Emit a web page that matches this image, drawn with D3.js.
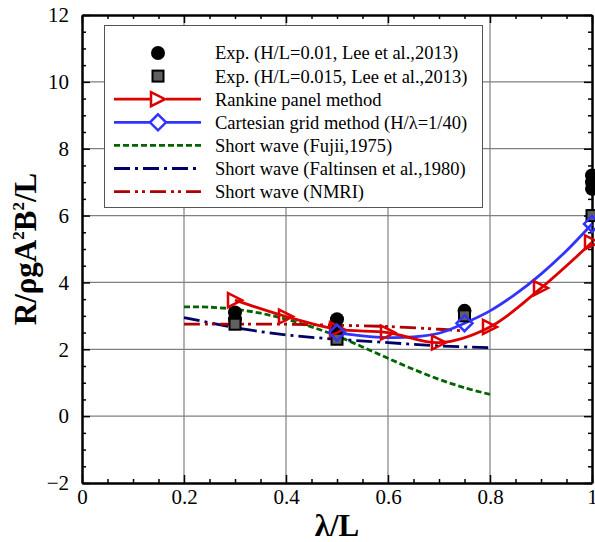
<!DOCTYPE html>
<html><head><meta charset="utf-8">
<script src="https://cdn.jsdelivr.net/npm/d3@7"></script>
<style>body{margin:0;background:#fff}svg{display:block}</style>
</head><body>
<script>
const expCircleX = [0.3, 0.3, 0.5, 0.5, 0.75, 1.0, 1.0, 1.0];
const expCircleY = [3.1, 2.9, 2.9, 2.55, 3.15, 7.2, 7.0, 6.8];
const expSquareX = [0.3, 0.5, 0.75, 1.0];
const expSquareY = [2.75, 2.3, 3.0, 6.0];
const rankineX = [0.3, 0.4, 0.5, 0.6, 0.7, 0.8, 0.9, 1.0];
const rankineY = [3.47, 2.98, 2.6, 2.5, 2.2, 2.67, 3.83, 5.2];
const cartMarkX = [0.5, 0.75, 1.0];
const cartMarkY = [2.5, 2.78, 5.75];
const cartLineX = [0.5, 0.55, 0.6, 0.65, 0.7, 0.75, 0.8, 0.85, 0.9, 0.95, 1.0];
const cartLineY = [2.5, 2.4, 2.35, 2.37, 2.48, 2.78, 3.15, 3.65, 4.25, 4.95, 5.75];
const fujiiX = [0.2, 0.25, 0.3, 0.35, 0.4, 0.45, 0.5, 0.55, 0.6, 0.65, 0.7, 0.75, 0.8];
const fujiiY = [3.27, 3.26, 3.2, 3.08, 2.9, 2.67, 2.4, 2.07, 1.73, 1.4, 1.1, 0.85, 0.65];
const faltX = [0.2, 0.3, 0.4, 0.5, 0.6, 0.7, 0.8];
const faltY = [2.95, 2.65, 2.43, 2.3, 2.2, 2.1, 2.05];
const nmriX = [0.2, 0.3, 0.4, 0.5, 0.6, 0.7, 0.75];
const nmriY = [2.75, 2.75, 2.75, 2.72, 2.68, 2.6, 2.55];
const xTicks = [0, 0.2, 0.4, 0.6, 0.8, 1];
const yTicks = [-2, 0, 2, 4, 6, 8, 10, 12];
const legendLabels = ["Exp. (H/L=0.01, Lee et al.,2013)", "Exp. (H/L=0.015, Lee et al.,2013)", "Rankine panel method", "Cartesian grid method (H/\u03bb=1/40)", "Short wave (Fujii,1975)", "Short wave (Faltinsen et al.,1980)", "Short wave (NMRI)"];

const W = 595, H = 542;
const m = {l: 82, r: 3, t: 15, b: 59};
const svg = d3.select("body").append("svg").attr("width", W).attr("height", H);
const x = d3.scaleLinear().domain([0, 1]).range([m.l, W - m.r]);
const y = d3.scaleLinear().domain([-2, 12]).range([H - m.b, m.t]);
const font = "'Liberation Serif', 'Times New Roman', serif";

// grid
const g = svg.append("g");
g.selectAll(".vg").data(xTicks.slice(1, -1)).enter().append("line")
  .attr("x1", d => x(d)).attr("x2", d => x(d)).attr("y1", y(-2)).attr("y2", y(12))
  .attr("stroke", "#808080").attr("stroke-width", 1.2);
g.selectAll(".hg").data(yTicks.slice(1, -1)).enter().append("line")
  .attr("y1", d => y(d)).attr("y2", d => y(d)).attr("x1", x(0)).attr("x2", x(1))
  .attr("stroke", "#808080").attr("stroke-width", 1.2);

// axes with inward ticks
const minorX = d3.range(0, 1.0001, 0.05).filter(v => Math.abs(v * 5 - Math.round(v * 5)) > 1e-6);
const minorY = d3.range(-2, 12.0001, 0.5).filter(v => Math.abs(v / 2 - Math.round(v / 2)) > 1e-6);
const ax = svg.append("g");
const axes = [
  [d3.axisBottom(x), `translate(0,${y(-2)})`, xTicks, minorX, true, "b"],
  [d3.axisTop(x), `translate(0,${y(12)})`, xTicks, minorX, false, "t"],
  [d3.axisLeft(y), `translate(${x(0)},0)`, yTicks, minorY, true, "l"],
  [d3.axisRight(y), `translate(${x(1)},0)`, yTicks, minorY, false, "r"]
];
axes.forEach(([a, tr, maj, min, lab, side]) => {
  const ga = ax.append("g").attr("transform", tr).attr("class", "ax-" + side);
  ga.call(a.tickValues(maj).tickSize(-8).tickSizeOuter(0).tickPadding(side === "b" ? 12 : 13)
    .tickFormat(lab ? d3.format("~g") : ""));
  const gm = ax.append("g").attr("transform", tr);
  gm.call(a.tickValues(min).tickSize(-4).tickSizeOuter(0).tickFormat(""));
  gm.select(".domain").remove();
  ga.select(".domain").attr("stroke", "#000").attr("stroke-width", 2.5);
  ga.selectAll("text").attr("font-family", font).attr("font-size", 21).attr("fill", "#000");
});
ax.selectAll("line").attr("stroke", "#000").attr("stroke-width", 1.5);
ax.select(".ax-b").selectAll("text").attr("dy", "0.45em");

// lines
const lineGen = d3.line().x(d => x(d[0])).y(d => y(d[1])).curve(d3.curveCatmullRom);
const zip = (a, b) => a.map((v, i) => [v, b[i]]);
const plot = svg.append("g");
const series = [
  {pts: zip(fujiiX, fujiiY), color: "#006400", dash: "6,3"},
  {pts: zip(faltX, faltY), color: "#000066", dash: "16,5,3,5"},
  {pts: zip(nmriX, nmriY), color: "#b00000", dash: "16,5,3,4,3,5"},
  {pts: zip(cartLineX, cartLineY), color: "#3333ff", dash: null},
  {pts: zip(rankineX, rankineY), color: "#dd0000", dash: null}
];
series.forEach(s => {
  plot.append("path").datum(s.pts).attr("d", lineGen).attr("fill", "none")
    .attr("stroke", s.color).attr("stroke-width", 2.8).attr("stroke-dasharray", s.dash);
});

// markers
function triangle(sel, cx, cy, color) {
  const s = 7;
  sel.append("path").attr("d", `M${cx - s},${cy - s}L${cx + s},${cy}L${cx - s},${cy + s}Z`)
    .attr("fill", "none").attr("stroke", color).attr("stroke-width", 2.5);
}
function diamond(sel, cx, cy, color) {
  const s = 8;
  sel.append("path").attr("d", `M${cx},${cy - s}L${cx + s},${cy}L${cx},${cy + s}L${cx - s},${cy}Z`)
    .attr("fill", "none").attr("stroke", color).attr("stroke-width", 2.5);
}
function square(sel, cx, cy) {
  const s = 5.5;
  sel.append("rect").attr("x", cx - s).attr("y", cy - s).attr("width", 2 * s).attr("height", 2 * s)
    .attr("fill", "#606060").attr("stroke", "#000").attr("stroke-width", 2);
}
function circle(sel, cx, cy) {
  sel.append("circle").attr("cx", cx).attr("cy", cy).attr("r", 7).attr("fill", "#000");
}
expCircleX.forEach((v, i) => circle(plot, x(v), y(expCircleY[i])));
expSquareX.forEach((v, i) => square(plot, x(v), y(expSquareY[i])));
rankineX.forEach((v, i) => triangle(plot, x(v), y(rankineY[i]), "#dd0000"));
cartMarkX.forEach((v, i) => diamond(plot, x(v), y(cartMarkY[i]), "#3333ff"));

// legend
const lg = svg.append("g");
lg.append("rect").attr("x", 104.5).attr("y", 25.5).attr("width", 378).attr("height", 182)
  .attr("fill", "#fff").attr("stroke", "#555").attr("stroke-width", 1);
const rowY = i => 53 + i * 23.1;
legendLabels.forEach((t, i) => {
  const yy = rowY(i);
  lg.append("text").attr("x", 215).attr("y", yy).attr("dy", "0.35em")
    .attr("font-family", font).attr("font-size", 18.5).text(t);
  if (i === 0) circle(lg, 158, yy);
  else if (i === 1) square(lg, 158, yy);
  else {
    const s = series[[4, 3, 0, 1, 2][i - 2]];
    lg.append("line").attr("x1", 114).attr("x2", 201).attr("y1", yy).attr("y2", yy)
      .attr("stroke", s.color).attr("stroke-width", 2.8).attr("stroke-dasharray", s.dash);
    if (i === 2) { lg.append("rect").attr("x", 150).attr("y", yy - 8).attr("width", 16).attr("height", 16).attr("fill", "#fff"); triangle(lg, 158, yy, "#dd0000"); }
    if (i === 3) { lg.append("rect").attr("x", 150).attr("y", yy - 8).attr("width", 16).attr("height", 16).attr("fill", "#fff"); diamond(lg, 158, yy, "#3333ff"); }
  }
});

// axis titles
svg.append("text").attr("x", x(0.5)).attr("y", 536).attr("text-anchor", "middle")
  .attr("font-family", font).attr("font-size", 31).attr("font-weight", "bold").text("\u03bb/L");
const yt = svg.append("text").attr("transform", `translate(36,${y(5)}) rotate(-90)`)
  .attr("text-anchor", "middle").attr("font-family", font).attr("font-size", 31).attr("font-weight", "bold");
yt.append("tspan").text("R/\u03c1gA");
yt.append("tspan").attr("dy", -12).attr("font-size", 17).text("2");
yt.append("tspan").attr("dy", 12).text("B");
yt.append("tspan").attr("dy", -12).attr("font-size", 17).text("2");
yt.append("tspan").attr("dy", 12).text("/L");
</script>
</body></html>
